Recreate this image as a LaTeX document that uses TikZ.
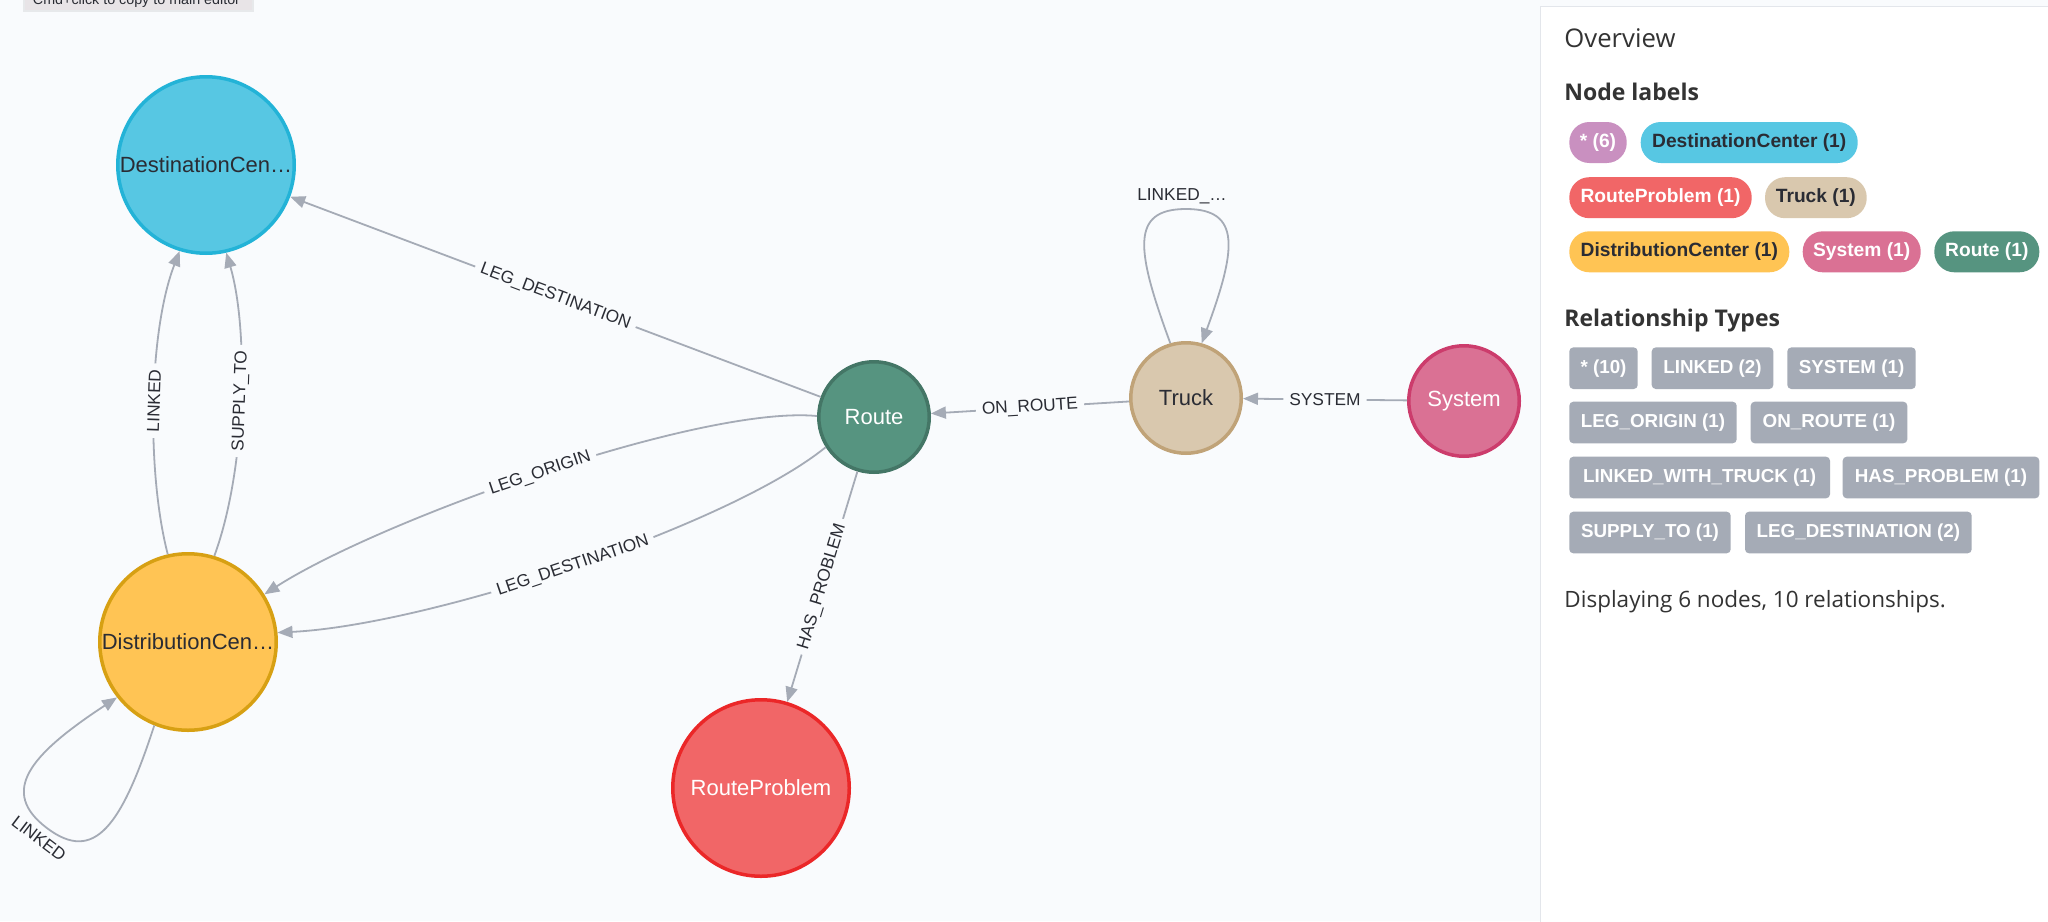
\documentclass[tikz,border=0pt]{standalone}
\usepackage{fontspec}
\setmainfont{Liberation Sans}
\newfontfamily\osans{Open Sans}
\newfontfamily\helv{Liberation Sans}
\usetikzlibrary{arrows.meta}
\definecolor{graphbg}{HTML}{F9FBFD}
\definecolor{edgecol}{HTML}{A5ABB6}
\definecolor{darktext}{HTML}{2A2C34}
\definecolor{paneltext}{HTML}{333333}
\definecolor{destfill}{HTML}{57C7E3}
\definecolor{destline}{HTML}{23B3D7}
\definecolor{distfill}{HTML}{FFC454}
\definecolor{distline}{HTML}{D7A013}
\definecolor{routefill}{HTML}{569480}
\definecolor{routeline}{HTML}{447666}
\definecolor{truckfill}{HTML}{D9C8AE}
\definecolor{truckline}{HTML}{C0A378}
\definecolor{sysfill}{HTML}{DA7194}
\definecolor{sysline}{HTML}{CC3C6C}
\definecolor{probfill}{HTML}{F16667}
\definecolor{probline}{HTML}{EB2728}
\definecolor{allfill}{HTML}{C990C0}
\definecolor{relfill}{HTML}{A5ABB6}
\definecolor{panelline}{HTML}{E3E6EB}
\definecolor{tipfill}{HTML}{E8E4E7}
\tikzset{
  gnode/.style={circle, line width=1.75pt, inner sep=0pt, font=\helv\fontsize{11}{13}\selectfont},
  bignode/.style={gnode, minimum size=88.25pt},
  smallnode/.style={gnode, minimum size=55.25pt},
  edge/.style={draw=edgecol, line width=0.9pt, -{Triangle[length=7.5pt,width=6pt]}},
  elabel/.style={fill=graphbg, inner xsep=3pt, inner ysep=1pt, text=darktext, font=\helv\fontsize{8.65}{10}\selectfont},
  lpill/.style={rounded corners=10pt, minimum height=20.5pt, inner sep=0pt, font=\helv\bfseries\fontsize{9.6}{11}\selectfont},
  rpill/.style={rounded corners=2pt, fill=relfill, text=white, minimum height=20.8pt, inner sep=0pt, font=\helv\bfseries\fontsize{9.4}{11}\selectfont},
  ptitle/.style={anchor=base west, inner sep=0pt, text=paneltext},
}
\begin{document}
\begin{tikzpicture}[x=0.5pt,y=-0.5pt]
\useasboundingbox (0,0) rectangle (2048,921);
\fill[graphbg] (0,0) rectangle (2048,921);

% tooltip (cut at the top)
\begin{scope}
  \clip (0,0) rectangle (2048,12);
  \fill[black, opacity=0.07] (23,-20) rectangle (254,12);
  \node[fill=tipfill, anchor=south west, minimum width=113.5pt, minimum height=15pt, inner sep=0pt] (tip) at (25,10) {};
  \node[anchor=base, inner sep=0pt, text=darktext, font=\helv\fontsize{7.15}{8}\selectfont] (tiptext) at (136.5,4) {Cmd+click to copy to main editor};
\end{scope}

% graph nodes
\node[bignode, fill=destfill, draw=destline, text=darktext] (dest) at (206,165) {DestinationCen…};
\node[bignode, fill=distfill, draw=distline, text=darktext] (dist) at (188,642) {DistributionCen…};
\node[smallnode, fill=routefill, draw=routeline, text=white] (route) at (874,417) {Route};
\node[smallnode, fill=truckfill, draw=truckline, text=darktext] (truck) at (1186,398) {Truck};
\node[smallnode, fill=sysfill, draw=sysline, text=white] (system) at (1464,401) {System};
\node[bignode, fill=probfill, draw=probline, text=white] (prob) at (761,788) {RouteProblem};

% relationships
\draw[edge] (route) -- node[elabel, sloped] {LEG\_DESTINATION} (dest);
\draw[edge] (dist.103) .. controls (146,470) and (149,330) .. node[elabel, sloped] {LINKED} (dest.253);
\draw[edge] (dist.73) .. controls (246,470) and (249,330) .. node[elabel, sloped] {SUPPLY\_TO} (dest.283);
\draw[edge] (route.179) .. controls (700,405) and (380,520) .. node[elabel, sloped] {LEG\_ORIGIN} (dist.32);
\draw[edge] (route.212) .. controls (730,525) and (430,625) .. node[elabel, sloped] {LEG\_DESTINATION} (dist.6);
\draw[edge] (route) -- node[elabel, sloped] {HAS\_PROBLEM} (prob);
\draw[edge] (truck) -- node[elabel, sloped] {ON\_ROUTE} (route);
\draw[edge] (system) -- node[elabel, sloped] {SYSTEM} (truck);

% self loops
\begin{scope}[shift={(truck.center)}, y=0.5pt]
  \draw[edge] (truck.106) .. controls (-50,148) and (-56,189) .. (0,189) .. controls (56,189) and (50,148) .. (truck.74);
  \node[elabel] (truckloop) at (-4,202) {LINKED\_…};
\end{scope}
\begin{scope}[shift={(dist.center)}, rotate=142.8, y=0.5pt]
  \draw[edge] (dist.248) .. controls (-58,186) and (-60,233.5) .. (0,233.5) .. controls (60,233.5) and (58,186) .. (dist.218);
  \node[elabel, rotate=-37.2] (distloop) at (0,246.5) {LINKED};
\end{scope}

% overview panel
\draw[panelline, fill=white] (1540.5,6) rectangle (2060,930);
\node[ptitle, font=\osans\fontsize{12.85}{15}\selectfont] (ovw) at (1564,47.7) {Overview};
\node[ptitle, font=\osans\bfseries\fontsize{11.5}{14}\selectfont] (nlab) at (1564,100) {Node labels};

\node[lpill, fill=allfill, text=white, minimum width=28.7pt] (pall) at (1598,142.5) {* (6)};
\node[lpill, fill=destfill, text=darktext, minimum width=108.5pt] (pdest) at (1749.2,142.5) {DestinationCenter (1)};
\node[lpill, fill=probfill, text=white, minimum width=91.2pt] (pprob) at (1660.5,197.7) {RouteProblem (1)};
\node[lpill, fill=truckfill, text=darktext, minimum width=50.85pt] (ptruck) at (1815.85,197.7) {Truck (1)};
\node[lpill, fill=distfill, text=darktext, minimum width=110pt] (pdist) at (1679.3,251.8) {DistributionCenter (1)};
\node[lpill, fill=sysfill, text=white, minimum width=59pt] (psys) at (1861.7,251.8) {System (1)};
\node[lpill, fill=routefill, text=white, minimum width=52.5pt] (proute) at (1986.8,251.8) {Route (1)};

\node[ptitle, font=\osans\bfseries\fontsize{11.5}{14}\selectfont] (rtyp) at (1564,326) {Relationship Types};

\node[rpill, minimum width=34.2pt] (rall) at (1603.5,368.2) {* (10)};
\node[rpill, minimum width=60.8pt] (rlinked) at (1712.5,368.2) {LINKED (2)};
\node[rpill, minimum width=64.2pt] (rsys) at (1851.5,368.2) {SYSTEM (1)};
\node[rpill, minimum width=83.7pt] (rorig) at (1653,422.5) {LEG\_ORIGIN (1)};
\node[rpill, minimum width=78.3pt] (ronr) at (1829,422.5) {ON\_ROUTE (1)};
\node[rpill, minimum width=130.35pt] (rlwt) at (1699.65,477.5) {LINKED\_WITH\_TRUCK (1)};
\node[rpill, minimum width=98.3pt] (rhas) at (1941,477.5) {HAS\_PROBLEM (1)};
\node[rpill, minimum width=80.7pt] (rsup) at (1650,532.5) {SUPPLY\_TO (1)};
\node[rpill, minimum width=113.35pt] (rdest) at (1858.35,532.5) {LEG\_DESTINATION (2)};

\node[ptitle, font=\osans\fontsize{11.25}{14}\selectfont] (disp) at (1564,607.7) {Displaying 6 nodes, 10 relationships.};
\end{tikzpicture}
\end{document}
